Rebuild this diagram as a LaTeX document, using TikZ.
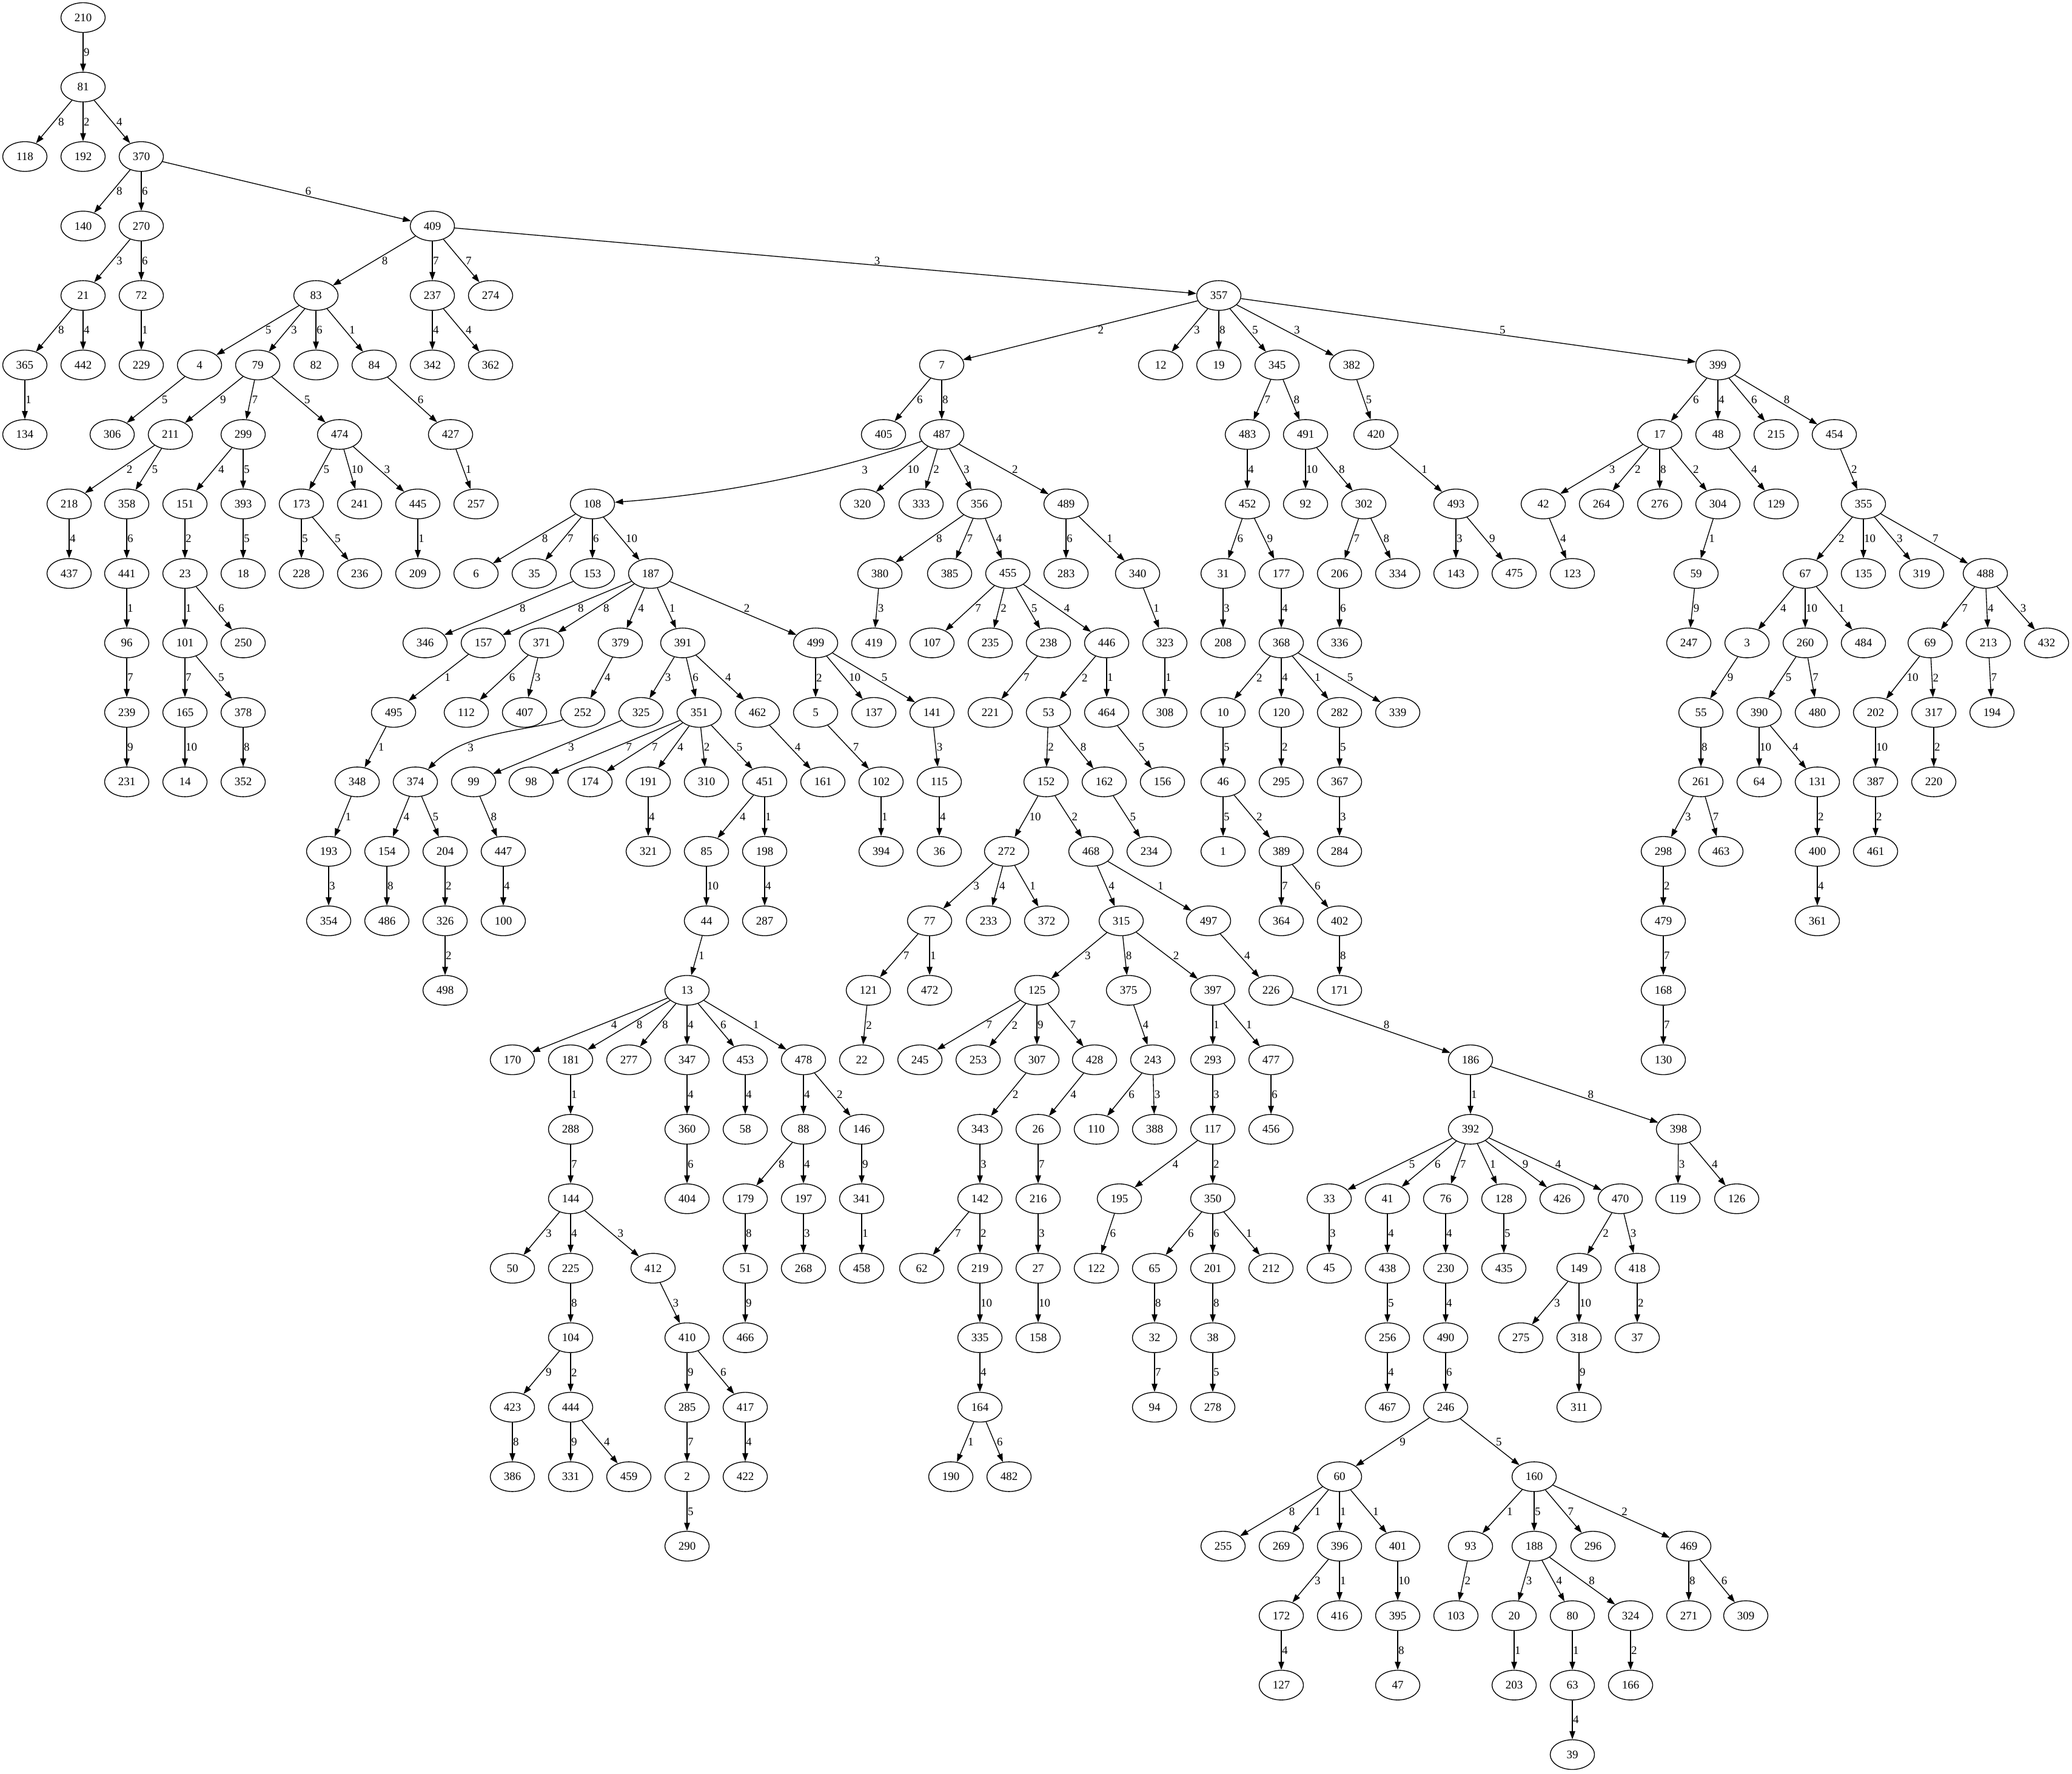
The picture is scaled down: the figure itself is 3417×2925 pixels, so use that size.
\documentclass[tikz,border=0pt]{standalone}
\usepackage{fontspec}
\setmainfont{Liberation Serif}
\usetikzlibrary{shapes.geometric,arrows.meta,calc}
\tikzset{
  nd/.style={ellipse, draw, line width=1.35pt, minimum width=73pt, minimum height=49pt, inner sep=0pt, font=\fontsize{19}{19}\selectfont},
  edge/.style={line width=1.35pt, -{Triangle[length=13.5pt,width=9.5pt]}},
  lab/.style={anchor=west, inner sep=0pt, xshift=1pt, font=\fontsize{19}{19}\selectfont},
}
\newcommand\Nd[3]{\node[nd] (n#1) at (#2,{29+114.6*#3}) {#1};}
\newcommand\Ed[3]{\draw[edge] (n#1) -- (n#2);
  \path let \p1=(n#1.center), \p2=(n#2.center), \n1={7*abs(\x2-\x1)/abs(\y2-\y1)} in
    node[lab] at ({0.5*\x1+0.5*\x2+\n1*1pt},{0.5*\y1+0.5*\y2}) {#3};}
\begin{document}
\begin{tikzpicture}[x=1pt,y=-1pt]
\path[fill=white,use as bounding box] (0,0) rectangle (3417,2925);
% rank 0-4
\Nd{210}{137}{0}
\Nd{81}{137}{1}
\Nd{118}{41}{2} \Nd{192}{137}{2} \Nd{370}{233}{2}
\Nd{140}{137}{3} \Nd{270}{233}{3} \Nd{409}{713}{3}
\Nd{21}{137}{4} \Nd{72}{233}{4} \Nd{83}{521}{4} \Nd{237}{713}{4} \Nd{274}{809}{4} \Nd{357}{2010}{4}
% rank 5
\Nd{365}{41}{5} \Nd{442}{137}{5} \Nd{229}{233}{5} \Nd{4}{329}{5} \Nd{79}{425}{5} \Nd{82}{521}{5} \Nd{84}{617}{5} \Nd{342}{713}{5} \Nd{362}{809}{5}
\Nd{7}{1553}{5} \Nd{12}{1914}{5} \Nd{19}{2010}{5} \Nd{345}{2106}{5} \Nd{382}{2229}{5} \Nd{399}{2833}{5}
% rank 6
\Nd{134}{41}{6} \Nd{306}{185}{6} \Nd{211}{281}{6} \Nd{299}{401}{6} \Nd{474}{560}{6} \Nd{427}{743}{6}
\Nd{405}{1457}{6} \Nd{487}{1553}{6} \Nd{483}{2057}{6} \Nd{491}{2153}{6} \Nd{420}{2269}{6}
\Nd{17}{2737}{6} \Nd{48}{2833}{6} \Nd{215}{2929}{6} \Nd{454}{3025}{6}
% rank 7
\Nd{218}{114}{7} \Nd{358}{209}{7} \Nd{151}{305}{7} \Nd{393}{401}{7} \Nd{173}{497}{7} \Nd{241}{593}{7} \Nd{445}{689}{7} \Nd{257}{785}{7}
\Nd{108}{977}{7} \Nd{320}{1422}{7} \Nd{333}{1519}{7} \Nd{356}{1615}{7} \Nd{489}{1758}{7}
\Nd{452}{2057}{7} \Nd{92}{2153}{7} \Nd{302}{2249}{7} \Nd{493}{2401}{7}
\Nd{42}{2545}{7} \Nd{264}{2641}{7} \Nd{276}{2737}{7} \Nd{304}{2833}{7} \Nd{129}{2929}{7} \Nd{355}{3073}{7}
% rank 8
\Nd{437}{114}{8} \Nd{441}{209}{8} \Nd{23}{305}{8} \Nd{18}{401}{8} \Nd{228}{497}{8} \Nd{236}{593}{8} \Nd{209}{689}{8}
\Nd{6}{785}{8} \Nd{35}{881}{8} \Nd{153}{977}{8} \Nd{187}{1073}{8}
\Nd{380}{1451}{8} \Nd{385}{1566}{8} \Nd{455}{1662}{8} \Nd{283}{1758}{8} \Nd{340}{1876}{8}
\Nd{31}{2017}{8} \Nd{177}{2113}{8} \Nd{206}{2209}{8} \Nd{334}{2305}{8} \Nd{143}{2401}{8} \Nd{475}{2497}{8}
\Nd{123}{2593}{8} \Nd{59}{2797}{8} \Nd{67}{2977}{8} \Nd{135}{3073}{8} \Nd{319}{3169}{8} \Nd{488}{3274}{8}
% rank 9
\Nd{96}{209}{9} \Nd{101}{305}{9} \Nd{250}{401}{9} \Nd{346}{701}{9} \Nd{157}{797}{9} \Nd{371}{893}{9} \Nd{379}{1023}{9} \Nd{391}{1126}{9}
\Nd{499}{1345}{9} \Nd{419}{1441}{9} \Nd{107}{1537}{9} \Nd{235}{1633}{9} \Nd{238}{1729}{9} \Nd{446}{1825}{9} \Nd{323}{1921}{9}
\Nd{208}{2017}{9} \Nd{368}{2113}{9} \Nd{336}{2209}{9}
\Nd{247}{2785}{9} \Nd{3}{2881}{9} \Nd{260}{2977}{9} \Nd{484}{3073}{9} \Nd{69}{3183}{9} \Nd{213}{3279}{9} \Nd{432}{3375}{9}
% rank 10
\Nd{239}{209}{10} \Nd{165}{305}{10} \Nd{378}{401}{10} \Nd{495}{649}{10} \Nd{112}{769}{10} \Nd{407}{865}{10}
\Nd{252}{961}{10} \Nd{325}{1057}{10} \Nd{351}{1153}{10} \Nd{462}{1249}{10} \Nd{5}{1345}{10} \Nd{137}{1441}{10} \Nd{141}{1537}{10} \Nd{221}{1633}{10}
\Nd{53}{1729}{10} \Nd{464}{1825}{10} \Nd{308}{1921}{10} \Nd{10}{2017}{10} \Nd{120}{2113}{10} \Nd{282}{2209}{10} \Nd{339}{2305}{10}
\Nd{55}{2805}{10} \Nd{390}{2901}{10} \Nd{480}{2997}{10} \Nd{202}{3093}{10} \Nd{317}{3189}{10} \Nd{194}{3285}{10}
% rank 11
\Nd{231}{209}{11} \Nd{14}{305}{11} \Nd{352}{401}{11} \Nd{348}{589}{11} \Nd{374}{685}{11} \Nd{99}{781}{11}
\Nd{98}{876}{11} \Nd{174}{973}{11} \Nd{191}{1069}{11} \Nd{310}{1165}{11} \Nd{451}{1261}{11} \Nd{161}{1357}{11} \Nd{102}{1453}{11} \Nd{115}{1549}{11}
\Nd{152}{1725}{11} \Nd{162}{1821}{11} \Nd{156}{1917}{11} \Nd{46}{2017}{11} \Nd{295}{2113}{11} \Nd{367}{2209}{11}
\Nd{261}{2805}{11} \Nd{64}{2901}{11} \Nd{131}{2997}{11} \Nd{387}{3093}{11} \Nd{220}{3189}{11}
% rank 12
\Nd{193}{542}{12} \Nd{154}{638}{12} \Nd{204}{734}{12} \Nd{447}{830}{12} \Nd{321}{1069}{12} \Nd{85}{1165}{12} \Nd{198}{1261}{12}
\Nd{394}{1453}{12} \Nd{36}{1549}{12} \Nd{272}{1660}{12} \Nd{468}{1799}{12} \Nd{234}{1895}{12} \Nd{1}{2017}{12} \Nd{389}{2113}{12} \Nd{284}{2209}{12}
\Nd{298}{2743}{12} \Nd{463}{2838}{12} \Nd{400}{2997}{12} \Nd{461}{3093}{12}
% rank 13
\Nd{354}{542}{13} \Nd{486}{638}{13} \Nd{326}{734}{13} \Nd{100}{830}{13} \Nd{44}{1165}{13} \Nd{287}{1261}{13}
\Nd{77}{1533}{13} \Nd{233}{1630}{13} \Nd{372}{1726}{13} \Nd{315}{1849}{13} \Nd{497}{1993}{13} \Nd{364}{2113}{13} \Nd{402}{2209}{13}
\Nd{479}{2743}{13} \Nd{361}{2997}{13}
% rank 14
\Nd{498}{734}{14} \Nd{13}{1133}{14} \Nd{121}{1432}{14} \Nd{472}{1533}{14} \Nd{125}{1710}{14} \Nd{375}{1861}{14} \Nd{397}{2000}{14} \Nd{226}{2096}{14} \Nd{171}{2209}{14} \Nd{168}{2743}{14}
% rank 15
\Nd{170}{845}{15} \Nd{181}{941}{15} \Nd{277}{1037}{15} \Nd{347}{1133}{15} \Nd{453}{1229}{15} \Nd{478}{1325}{15} \Nd{22}{1421}{15}
\Nd{245}{1517}{15} \Nd{253}{1613}{15} \Nd{307}{1710}{15} \Nd{428}{1805}{15} \Nd{243}{1901}{15} \Nd{293}{2000}{15} \Nd{477}{2096}{15} \Nd{186}{2425}{15} \Nd{130}{2743}{15}
% rank 16
\Nd{288}{941}{16} \Nd{360}{1133}{16} \Nd{58}{1229}{16} \Nd{88}{1325}{16} \Nd{146}{1421}{16} \Nd{343}{1616}{16} \Nd{26}{1712}{16}
\Nd{110}{1808}{16} \Nd{388}{1904}{16} \Nd{117}{2000}{16} \Nd{456}{2096}{16} \Nd{392}{2425}{16} \Nd{398}{2768}{16}
% rank 17
\Nd{144}{941}{17} \Nd{404}{1133}{17} \Nd{179}{1229}{17} \Nd{197}{1325}{17} \Nd{341}{1421}{17} \Nd{142}{1616}{17} \Nd{216}{1712}{17}
\Nd{195}{1846}{17} \Nd{350}{2000}{17} \Nd{33}{2192}{17} \Nd{41}{2288}{17} \Nd{76}{2384}{17} \Nd{128}{2480}{17} \Nd{426}{2576}{17} \Nd{470}{2672}{17}
\Nd{119}{2767}{17} \Nd{126}{2864}{17}
% rank 18
\Nd{50}{845}{18} \Nd{225}{941}{18} \Nd{412}{1077}{18} \Nd{51}{1229}{18} \Nd{268}{1325}{18} \Nd{458}{1421}{18} \Nd{62}{1520}{18} \Nd{219}{1616}{18} \Nd{27}{1712}{18}
\Nd{122}{1808}{18} \Nd{65}{1904}{18} \Nd{201}{2000}{18} \Nd{212}{2096}{18} \Nd{45}{2192}{18} \Nd{438}{2288}{18} \Nd{230}{2384}{18} \Nd{435}{2480}{18} \Nd{149}{2604}{18} \Nd{418}{2700}{18}
% rank 19
\Nd{104}{941}{19} \Nd{410}{1133}{19} \Nd{466}{1229}{19} \Nd{335}{1616}{19} \Nd{158}{1712}{19} \Nd{32}{1904}{19} \Nd{38}{2000}{19}
\Nd{256}{2288}{19} \Nd{490}{2384}{19} \Nd{275}{2508}{19} \Nd{318}{2604}{19} \Nd{37}{2700}{19}
% rank 20
\Nd{423}{845}{20} \Nd{444}{941}{20} \Nd{285}{1133}{20} \Nd{417}{1229}{20} \Nd{164}{1616}{20} \Nd{94}{1904}{20} \Nd{278}{2000}{20} \Nd{467}{2288}{20} \Nd{246}{2384}{20} \Nd{311}{2604}{20}
% rank 21
\Nd{386}{845}{21} \Nd{331}{941}{21} \Nd{459}{1037}{21} \Nd{2}{1133}{21} \Nd{422}{1229}{21} \Nd{190}{1568}{21} \Nd{482}{1664}{21} \Nd{60}{2209}{21} \Nd{160}{2530}{21}
% rank 22
\Nd{290}{1133}{22} \Nd{255}{2017}{22} \Nd{269}{2113}{22} \Nd{396}{2209}{22} \Nd{401}{2305}{22} \Nd{93}{2425}{22} \Nd{188}{2530}{22} \Nd{296}{2627}{22} \Nd{469}{2785}{22}
% rank 23
\Nd{172}{2113}{23} \Nd{416}{2209}{23} \Nd{395}{2305}{23} \Nd{103}{2401}{23} \Nd{20}{2497}{23} \Nd{80}{2593}{23} \Nd{324}{2689}{23} \Nd{271}{2785}{23} \Nd{309}{2879}{23}
% rank 24
\Nd{127}{2113}{24} \Nd{47}{2305}{24} \Nd{203}{2497}{24} \Nd{63}{2593}{24} \Nd{166}{2689}{24}
% rank 25
\Nd{39}{2593}{25}

% ---------- edges ----------
\Ed{210}{81}{9}
\Ed{81}{118}{8} \Ed{81}{192}{2} \Ed{81}{370}{4}
\Ed{370}{140}{8} \Ed{370}{270}{6} \Ed{370}{409}{6}
\Ed{270}{21}{3} \Ed{270}{72}{6}
\Ed{21}{365}{8} \Ed{21}{442}{4}
\Ed{72}{229}{1}
\Ed{365}{134}{1}
\Ed{409}{83}{8} \Ed{409}{237}{7} \Ed{409}{274}{7} \Ed{409}{357}{3}
\Ed{83}{4}{5} \Ed{83}{79}{3} \Ed{83}{82}{6} \Ed{83}{84}{1}
\Ed{237}{342}{4} \Ed{237}{362}{4}
\Ed{4}{306}{5}
\Ed{79}{211}{9} \Ed{79}{299}{7} \Ed{79}{474}{5}
\Ed{84}{427}{6}
\Ed{211}{218}{2} \Ed{211}{358}{5}
\Ed{299}{151}{4} \Ed{299}{393}{5}
\Ed{474}{173}{5} \Ed{474}{241}{10} \Ed{474}{445}{3}
\Ed{427}{257}{1}
\Ed{218}{437}{4}
\Ed{358}{441}{6}
\Ed{151}{23}{2}
\Ed{393}{18}{5}
\Ed{173}{228}{5} \Ed{173}{236}{5}
\Ed{445}{209}{1}
\Ed{441}{96}{1}
\Ed{23}{101}{1} \Ed{23}{250}{6}
\Ed{96}{239}{7}
\Ed{101}{165}{7} \Ed{101}{378}{5}
\Ed{239}{231}{9}
\Ed{165}{14}{10}
\Ed{378}{352}{8}
\Ed{357}{7}{2} \Ed{357}{12}{3} \Ed{357}{19}{8} \Ed{357}{345}{5} \Ed{357}{382}{3} \Ed{357}{399}{5}
\Ed{7}{405}{6} \Ed{7}{487}{8}
\draw[edge] (n487) .. controls +(-200,68) and +(200,-15) .. (n108);
\node[lab,anchor=center,xshift=0pt] (l487) at (1425,775) {3};
\Ed{487}{320}{10} \Ed{487}{333}{2} \Ed{487}{356}{3} \Ed{487}{489}{2}
\Ed{108}{6}{8} \Ed{108}{35}{7} \Ed{108}{153}{6} \Ed{108}{187}{10}
\Ed{356}{380}{8} \Ed{356}{385}{7} \Ed{356}{455}{4}
\Ed{489}{283}{6} \Ed{489}{340}{1}
\Ed{345}{483}{7} \Ed{345}{491}{8}
\Ed{382}{420}{5}
\Ed{483}{452}{4}
\Ed{491}{92}{10} \Ed{491}{302}{8}
\Ed{420}{493}{1}
\Ed{452}{31}{6} \Ed{452}{177}{9}
\Ed{302}{206}{7} \Ed{302}{334}{8}
\Ed{493}{143}{3} \Ed{493}{475}{9}
\Ed{399}{17}{6} \Ed{399}{48}{4} \Ed{399}{215}{6} \Ed{399}{454}{8}
\Ed{17}{42}{3} \Ed{17}{264}{2} \Ed{17}{276}{8} \Ed{17}{304}{2}
\Ed{48}{129}{4}
\Ed{454}{355}{2}
\Ed{42}{123}{4}
\Ed{304}{59}{1}
\Ed{355}{67}{2} \Ed{355}{135}{10} \Ed{355}{319}{3} \Ed{355}{488}{7}
\Ed{153}{346}{8}
\Ed{187}{157}{8} \Ed{187}{371}{8} \Ed{187}{379}{4} \Ed{187}{391}{1} \Ed{187}{499}{2}
\Ed{380}{419}{3}
\Ed{455}{107}{7} \Ed{455}{235}{2} \Ed{455}{238}{5} \Ed{455}{446}{4}
\Ed{340}{323}{1}
\Ed{31}{208}{3}
\Ed{177}{368}{4}
\Ed{206}{336}{6}
\Ed{59}{247}{9}
\Ed{67}{3}{4} \Ed{67}{260}{10} \Ed{67}{484}{1}
\Ed{488}{69}{7} \Ed{488}{213}{4} \Ed{488}{432}{3}
\Ed{157}{495}{1}
\Ed{371}{112}{6} \Ed{371}{407}{3}
\Ed{379}{252}{4}
\Ed{391}{325}{3} \Ed{391}{351}{6} \Ed{391}{462}{4}
\Ed{499}{5}{2} \Ed{499}{137}{10} \Ed{499}{141}{5}
\Ed{238}{221}{7}
\Ed{446}{53}{2} \Ed{446}{464}{1}
\Ed{323}{308}{1}
\Ed{368}{10}{2} \Ed{368}{120}{4} \Ed{368}{282}{1} \Ed{368}{339}{5}
\Ed{3}{55}{9}
\Ed{260}{390}{5} \Ed{260}{480}{7}
\Ed{69}{202}{10} \Ed{69}{317}{2}
\Ed{213}{194}{7}
\Ed{495}{348}{1}
\draw[edge] (n252) .. controls +(-81,30) and +(85,-85) .. (n374);
\node[lab,anchor=center,xshift=0pt] (l252) at (775,1233) {3};
\Ed{325}{99}{3}
\Ed{351}{98}{7} \Ed{351}{174}{7} \Ed{351}{191}{4} \Ed{351}{310}{2} \Ed{351}{451}{5}
\Ed{462}{161}{4}
\Ed{5}{102}{7}
\Ed{141}{115}{3}
\Ed{53}{152}{2} \Ed{53}{162}{8}
\Ed{464}{156}{5}
\Ed{10}{46}{5}
\Ed{120}{295}{2}
\Ed{282}{367}{5}
\Ed{55}{261}{8}
\Ed{390}{64}{10} \Ed{390}{131}{4}
\Ed{202}{387}{10}
\Ed{317}{220}{2}
\Ed{348}{193}{1}
\Ed{374}{154}{4} \Ed{374}{204}{5}
\Ed{99}{447}{8}
\Ed{191}{321}{4}
\Ed{451}{85}{4} \Ed{451}{198}{1}
\Ed{102}{394}{1}
\Ed{115}{36}{4}
\Ed{152}{272}{10} \Ed{152}{468}{2}
\Ed{162}{234}{5}
\Ed{46}{1}{5} \Ed{46}{389}{2}
\Ed{367}{284}{3}
\Ed{261}{298}{3} \Ed{261}{463}{7}
\Ed{131}{400}{2}
\Ed{387}{461}{2}
\Ed{193}{354}{3}
\Ed{154}{486}{8}
\Ed{204}{326}{2}
\Ed{447}{100}{4}
\Ed{85}{44}{10}
\Ed{198}{287}{4}
\Ed{272}{77}{3} \Ed{272}{233}{4} \Ed{272}{372}{1}
\Ed{468}{315}{4} \Ed{468}{497}{1}
\Ed{389}{364}{7} \Ed{389}{402}{6}
\Ed{298}{479}{2}
\Ed{400}{361}{4}
\Ed{326}{498}{2}
\Ed{44}{13}{1}
\Ed{77}{121}{7} \Ed{77}{472}{1}
\Ed{315}{125}{3} \Ed{315}{375}{8} \Ed{315}{397}{2}
\Ed{497}{226}{4}
\Ed{402}{171}{8}
\Ed{479}{168}{7}
\Ed{13}{170}{4} \Ed{13}{181}{8} \Ed{13}{277}{8} \Ed{13}{347}{4} \Ed{13}{453}{6} \Ed{13}{478}{1}
\Ed{121}{22}{2}
\Ed{125}{245}{7} \Ed{125}{253}{2} \Ed{125}{307}{9} \Ed{125}{428}{7}
\Ed{375}{243}{4}
\Ed{397}{293}{1} \Ed{397}{477}{1}
\Ed{226}{186}{8}
\Ed{168}{130}{7}
\Ed{181}{288}{1}
\Ed{347}{360}{4}
\Ed{453}{58}{4}
\Ed{478}{88}{4} \Ed{478}{146}{2}
\Ed{307}{343}{2}
\Ed{428}{26}{4}
\Ed{243}{110}{6} \Ed{243}{388}{3}
\Ed{293}{117}{3}
\Ed{477}{456}{6}
\Ed{186}{392}{1} \Ed{186}{398}{8}
\Ed{288}{144}{7}
\Ed{360}{404}{6}
\Ed{88}{179}{8} \Ed{88}{197}{4}
\Ed{146}{341}{9}
\Ed{343}{142}{3}
\Ed{26}{216}{7}
\Ed{117}{195}{4} \Ed{117}{350}{2}
\Ed{392}{33}{5} \Ed{392}{41}{6} \Ed{392}{76}{7} \Ed{392}{128}{1} \Ed{392}{426}{9} \Ed{392}{470}{4}
\Ed{398}{119}{3} \Ed{398}{126}{4}
\Ed{144}{50}{3} \Ed{144}{225}{4} \Ed{144}{412}{3}
\Ed{179}{51}{8}
\Ed{197}{268}{3}
\Ed{341}{458}{1}
\Ed{142}{62}{7} \Ed{142}{219}{2}
\Ed{216}{27}{3}
\Ed{195}{122}{6}
\Ed{350}{65}{6} \Ed{350}{201}{6} \Ed{350}{212}{1}
\Ed{33}{45}{3}
\Ed{41}{438}{4}
\Ed{76}{230}{4}
\Ed{128}{435}{5}
\Ed{470}{149}{2} \Ed{470}{418}{3}
\Ed{225}{104}{8}
\Ed{412}{410}{3}
\Ed{51}{466}{9}
\Ed{219}{335}{10}
\Ed{27}{158}{10}
\Ed{65}{32}{8}
\Ed{201}{38}{8}
\Ed{438}{256}{5}
\Ed{230}{490}{4}
\Ed{149}{275}{3} \Ed{149}{318}{10}
\Ed{418}{37}{2}
\Ed{104}{423}{9} \Ed{104}{444}{2}
\Ed{410}{285}{9} \Ed{410}{417}{6}
\Ed{335}{164}{4}
\Ed{32}{94}{7}
\Ed{38}{278}{5}
\Ed{256}{467}{4}
\Ed{490}{246}{6}
\Ed{318}{311}{9}
\Ed{423}{386}{8}
\Ed{444}{331}{9} \Ed{444}{459}{4}
\Ed{285}{2}{7}
\Ed{417}{422}{4}
\Ed{164}{190}{1} \Ed{164}{482}{6}
\Ed{246}{60}{9} \Ed{246}{160}{5}
\Ed{2}{290}{5}
\Ed{60}{255}{8} \Ed{60}{269}{1} \Ed{60}{396}{1} \Ed{60}{401}{1}
\Ed{160}{93}{1} \Ed{160}{188}{5} \Ed{160}{296}{7} \Ed{160}{469}{2}
\Ed{396}{172}{3} \Ed{396}{416}{1}
\Ed{401}{395}{10}
\Ed{93}{103}{2}
\Ed{188}{20}{3} \Ed{188}{80}{4} \Ed{188}{324}{8}
\Ed{469}{271}{8} \Ed{469}{309}{6}
\Ed{172}{127}{4}
\Ed{395}{47}{8}
\Ed{20}{203}{1}
\Ed{80}{63}{1}
\Ed{324}{166}{2}
\Ed{63}{39}{4}
\end{tikzpicture}
\end{document}
